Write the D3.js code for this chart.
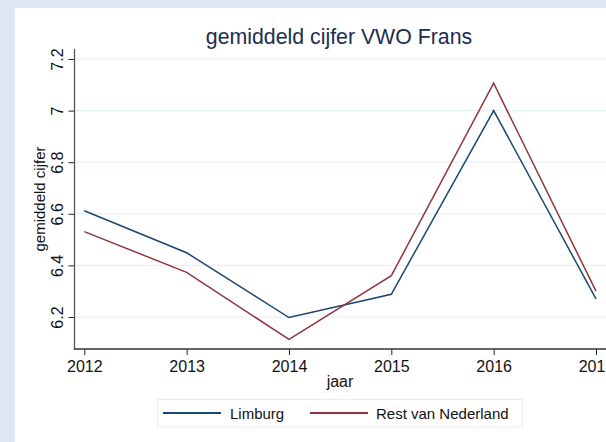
<!DOCTYPE html>
<html>
<head>
<meta charset="utf-8">
<script src="https://cdn.jsdelivr.net/npm/d3@7"></script>
<style>
  html, body { margin: 0; padding: 0; background: #dce7f3; }
  svg { display: block; }
  text { font-family: "Liberation Sans", Arial, sans-serif; }
</style>
</head>
<body>
<svg id="chart" width="606" height="442"></svg>
<script>
const years = [2012, 2013, 2014, 2015, 2016, 2017];
const limburg = [6.612, 6.449, 6.198, 6.288, 7.0, 6.27];
const restNL = [6.531, 6.373, 6.113, 6.36, 7.106, 6.30];
const yTicks = [6.2, 6.4, 6.6, 6.8, 7, 7.2];
const xTicks = [2012, 2013, 2014, 2015, 2016, 2017];
const seriesNames = ["Limburg", "Rest van Nederland"];
const seriesColors = ["#1a476f", "#90353b"];
const titleText = "gemiddeld cijfer VWO Frans";
const xTitle = "jaar";
const yTitle = "gemiddeld cijfer";

const svg = d3.select("#chart");
const W = 606, H = 442;

// outer background + white graph region
svg.append("rect").attr("x", 0).attr("y", 0).attr("width", W).attr("height", H).attr("fill", "#dce7f3");
svg.append("rect").attr("x", 15).attr("y", 8).attr("width", W - 15).attr("height", H - 8).attr("fill", "#ffffff");

const plot = { left: 74.5, right: 606, top: 49, bottom: 349 };

const x = d3.scaleLinear().domain([2012, 2017]).range([84.3, 596]);
const y = d3.scaleLinear().domain([6.2, 7.2]).range([317, 59]);

// gridlines
svg.append("g").selectAll("line").data(yTicks).join("line")
  .attr("x1", plot.left).attr("x2", plot.right)
  .attr("y1", d => y(d)).attr("y2", d => y(d))
  .attr("stroke", "#e8f0f2").attr("stroke-width", 1.2);

// title
svg.append("text").attr("x", 339).attr("y", 44).attr("text-anchor", "middle")
  .attr("font-size", 21.3).attr("fill", "#1c2d4f").text(titleText);

// y axis
const yAxis = svg.append("g").attr("transform", `translate(${plot.left},0)`)
  .call(d3.axisLeft(y).tickValues(yTicks).tickFormat(d3.format("")).tickSize(6).tickPadding(5));
yAxis.select(".domain").remove();
yAxis.selectAll(".tick line").attr("stroke", "#222");
yAxis.selectAll(".tick text")
  .attr("font-size", 16).attr("fill", "#111")
  .attr("transform", "rotate(-90)")
  .attr("x", 0).attr("dy", 0)
  .attr("y", -12)
  .attr("text-anchor", "middle")
  .style("font-family", "'Liberation Sans', Arial, sans-serif");
svg.append("line").attr("x1", plot.left).attr("x2", plot.left)
  .attr("y1", plot.top).attr("y2", plot.bottom + 0.5)
  .attr("stroke", "#555").attr("stroke-width", 1.3);

// x axis
const xAxis = svg.append("g").attr("transform", `translate(0,${plot.bottom})`)
  .call(d3.axisBottom(x).tickValues(xTicks).tickFormat(d3.format("d")).tickSize(6).tickPadding(6));
xAxis.select(".domain").remove();
xAxis.selectAll(".tick line").attr("stroke", "#222");
xAxis.selectAll(".tick text").attr("font-size", 16).attr("fill", "#111")
  .style("font-family", "'Liberation Sans', Arial, sans-serif");
svg.append("line").attr("x1", plot.left - 0.6).attr("x2", plot.right)
  .attr("y1", plot.bottom).attr("y2", plot.bottom)
  .attr("stroke", "#333").attr("stroke-width", 1.3);

// axis titles
svg.append("text").attr("x", 340).attr("y", 387).attr("text-anchor", "middle")
  .attr("font-size", 16).attr("fill", "#111").text(xTitle);
svg.append("text").attr("transform", "translate(45,199) rotate(-90)")
  .attr("text-anchor", "middle").attr("font-size", 15).attr("fill", "#111").text(yTitle);

// lines
const line = d3.line().x((d, i) => x(years[i])).y(d => y(d));
[limburg, restNL].forEach((s, k) => {
  svg.append("path").datum(s).attr("d", line)
    .attr("fill", "none").attr("stroke", seriesColors[k])
    .attr("stroke-width", 1.5).attr("stroke-linejoin", "miter");
});

// legend
const lg = svg.append("g");
lg.append("rect").attr("x", 157.5).attr("y", 399.5).attr("width", 365).attr("height", 27.5)
  .attr("fill", "#ffffff").attr("stroke", "#e6eef0").attr("stroke-width", 1);
const legendItems = [
  { lx1: 163, lx2: 221, tx: 230 },
  { lx1: 310, lx2: 368, tx: 376 }
];
legendItems.forEach((it, k) => {
  lg.append("line").attr("x1", it.lx1).attr("x2", it.lx2).attr("y1", 413).attr("y2", 413)
    .attr("stroke", seriesColors[k]).attr("stroke-width", 1.8);
  lg.append("text").attr("x", it.tx).attr("y", 419).attr("font-size", 15)
    .attr("fill", "#111").text(seriesNames[k]);
});
</script>
</body>
</html>
